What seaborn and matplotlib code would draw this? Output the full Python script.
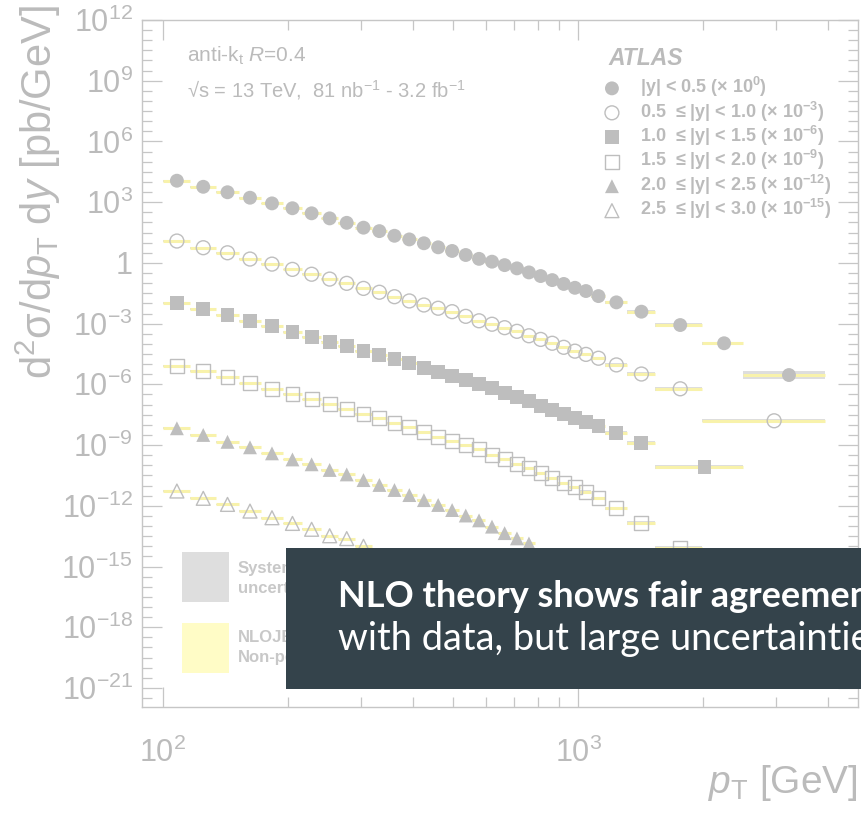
import numpy as np
import pandas as pd
import matplotlib
matplotlib.use("Agg")
import matplotlib.pyplot as plt
import seaborn as sns
from matplotlib.patches import Rectangle
from matplotlib.ticker import FixedLocator, NullFormatter
from matplotlib import font_manager

# ---------------- data ----------------
pt_edges = [100, 116, 134, 152, 172, 194, 216, 240, 264, 290, 318, 346, 376,
            408, 442, 478, 516, 556, 598, 642, 688, 736, 786, 838, 894, 952,
            1012, 1076, 1162, 1310, 1530, 1992, 2500, 3937]

edges_y00_05 = pt_edges
edges_y05_10 = pt_edges[:32] + [3937]
edges_y10_15 = pt_edges[:31] + [2500]
edges_y15_20 = pt_edges[:32]
edges_y20_25 = pt_edges[:23]
edges_y25_30 = pt_edges[:11]

# log10 of the (scaled) cross section, pb/GeV
log_xs_y00_05 = [4.06, 3.76, 3.49, 3.22, 2.94, 2.70, 2.45, 2.20, 1.98, 1.74,
                 1.57, 1.34, 1.16, 0.97, 0.77, 0.59, 0.39, 0.20, 0.06, -0.11,
                 -0.27, -0.47, -0.65, -0.85, -1.04, -1.23, -1.39, -1.64,
                 -1.95, -2.41, -3.07, -3.97, -5.54]
log_xs_y05_10 = [1.08, 0.75, 0.50, 0.19, -0.06, -0.32, -0.56, -0.80, -1.01,
                 -1.26, -1.45, -1.67, -1.88, -2.08, -2.24, -2.41, -2.64,
                 -2.86, -3.03, -3.20, -3.38, -3.60, -3.78, -3.97, -4.17,
                 -4.36, -4.52, -4.71, -5.04, -5.49, -6.22, -7.80]
log_xs_y10_15 = [-2.00, -2.29, -2.58, -2.87, -3.12, -3.40, -3.65, -3.89,
                 -4.11, -4.34, -4.55, -4.76, -4.96, -5.18, -5.38, -5.59,
                 -5.77, -5.98, -6.20, -6.41, -6.64, -6.81, -7.06, -7.27,
                 -7.47, -7.68, -7.85, -8.04, -8.39, -8.91, -10.10]
log_xs_y15_20 = [-5.08, -5.34, -5.65, -5.95, -6.22, -6.48, -6.74, -6.99,
                 -7.23, -7.47, -7.68, -7.90, -8.12, -8.34, -8.59, -8.79,
                 -8.98, -9.21, -9.49, -9.70, -9.94, -10.15, -10.40, -10.64,
                 -10.86, -11.07, -11.30, -11.63, -12.13, -12.87, -14.10]
log_xs_y20_25 = [-8.17, -8.50, -8.84, -9.11, -9.41, -9.71, -9.95, -10.23,
                 -10.45, -10.73, -10.97, -11.22, -11.47, -11.72, -11.96,
                 -12.21, -12.48, -12.72, -13.03, -13.35, -13.61, -13.86]
log_xs_y25_30 = [-11.27, -11.63, -11.93, -12.26, -12.59, -12.87, -13.16,
                 -13.48, -13.62, -14.00]

# systematic uncertainty half-width (in decades) per pT bin
sys_dex = [0.05, 0.04, 0.04, 0.04, 0.04, 0.04, 0.04, 0.04, 0.04, 0.04, 0.04,
           0.04, 0.04, 0.04, 0.04, 0.05, 0.05, 0.05, 0.05, 0.05, 0.05, 0.06,
           0.06, 0.06, 0.06, 0.07, 0.07, 0.08, 0.09, 0.10, 0.10, 0.08, 0.22]

series_labels = [
    r"|y| < 0.5 (× 10$^{\mathbf{0}}$)",
    r"0.5  ≤ |y| < 1.0 (× 10$^{\mathbf{-3}}$)",
    r"1.0  ≤ |y| < 1.5 (× 10$^{\mathbf{-6}}$)",
    r"1.5  ≤ |y| < 2.0 (× 10$^{\mathbf{-9}}$)",
    r"2.0  ≤ |y| < 2.5 (× 10$^{\mathbf{-12}}$)",
    r"2.5  ≤ |y| < 3.0 (× 10$^{\mathbf{-15}}$)",
]

# ---------------- style ----------------
sns.set_theme(style="ticks")
avail = {f.name for f in font_manager.fontManager.ttflist}
BASE_FONT = "Liberation Sans" if "Liberation Sans" in avail else "DejaVu Sans"
plt.rcParams["font.family"] = [BASE_FONT, "DejaVu Sans"]
plt.rcParams["mathtext.fontset"] = "custom"
plt.rcParams["mathtext.rm"] = BASE_FONT
plt.rcParams["mathtext.it"] = BASE_FONT + ":italic"
plt.rcParams["mathtext.bf"] = BASE_FONT + ":bold"
plt.rcParams["mathtext.sf"] = BASE_FONT
plt.rcParams["axes.formatter.min_exponent"] = 1

TEXT = "#bbbbbb"
AXC = "#c6c6c6"
GREY = "#bebebe"
BAND_GREY = "#dedede"
YELLOW = "#f8f2ab"

W, H = 862, 814
fig = plt.figure(figsize=(W / 100, H / 100), dpi=100)
L, R, T, B = 142, 858, 20, 707
ax = fig.add_axes([L / W, 1 - B / H, (R - L) / W, (B - T) / H])


def axx(px):
    return (px - L) / (R - L)


def axy(py):
    return (B - py) / (B - T)


ax.set_xscale("log")
ax.set_yscale("log")
ax.set_xlim(89, 4720)
ax.set_ylim(10 ** -21.94, 1e12)

series = [
    (edges_y00_05, log_xs_y00_05, "o", True),
    (edges_y05_10, log_xs_y05_10, "o", False),
    (edges_y10_15, log_xs_y10_15, "s", True),
    (edges_y15_20, log_xs_y15_20, "s", False),
    (edges_y20_25, log_xs_y20_25, "^", True),
    (edges_y25_30, log_xs_y25_30, "^", False),
]

MS = 100
handles = []
for edges, logs, marker, filled in series:
    lo = np.array(edges[:-1], float)
    hi = np.array(edges[1:], float)
    val = 10.0 ** np.array(logs)
    s = np.array(sys_dex[:len(val)])
    ax.bar(lo, val * (10 ** s - 10 ** -s), bottom=val * 10 ** -s,
           width=hi - lo, align="edge", color=BAND_GREY, linewidth=0, zorder=2)
    ax.hlines(val, lo, hi, color=YELLOW, lw=2.2, zorder=3)
    df = pd.DataFrame({"pt": (lo + hi) / 2, "xsec": val})
    if filled:
        sns.scatterplot(data=df, x="pt", y="xsec", marker=marker, s=MS,
                        color=GREY, edgecolor="none", linewidth=0, ax=ax,
                        zorder=4, legend=False)
    else:
        sns.scatterplot(data=df, x="pt", y="xsec", marker=marker, s=MS,
                        facecolor="none", edgecolor=GREY, linewidth=1.0,
                        ax=ax, zorder=4, legend=False)
    handles.append(ax.collections[-1])

# ---------------- axes / ticks ----------------
ax.yaxis.set_major_locator(FixedLocator([10.0 ** k for k in range(-21, 13, 3)]))
ax.yaxis.set_minor_locator(FixedLocator([10.0 ** (k / 2) for k in range(-44, 25) if k % 6 != 0]))
ax.yaxis.set_minor_formatter(NullFormatter())
ax.xaxis.set_major_locator(FixedLocator([100, 1000]))
ax.xaxis.set_minor_locator(FixedLocator([200, 300, 400, 500, 600, 700, 800, 900, 2000, 3000, 4000]))
ax.xaxis.set_minor_formatter(NullFormatter())

ax.tick_params(which="both", direction="in", top=True, right=True,
               color=AXC, labelcolor=TEXT, width=0.9)
ax.tick_params(which="major", length=14.4)
ax.tick_params(which="minor", length=7.2)
ax.tick_params(axis="y", labelsize=22, pad=6.5)
ax.tick_params(axis="x", labelsize=22, pad=22)
for sp in ax.spines.values():
    sp.set_color(AXC)
    sp.set_linewidth(1.0)

ax.set_ylabel("d$^{2}$σ/d$p_{\\mathrm{T}}$ d$y$ [pb/GeV]", fontsize=30, color=TEXT)
ax.yaxis.label.set_rotation_mode("default")
ax.yaxis.label.set_horizontalalignment("center")
ax.yaxis.label.set_verticalalignment("top")
ax.yaxis.set_label_coords(axx(38), axy(5))

ax.set_xlabel("$p_{\\mathrm{T}}$ [GeV]", fontsize=28, color=TEXT)
ax.xaxis.label.set_horizontalalignment("right")
ax.xaxis.label.set_verticalalignment("top")
ax.xaxis.set_label_coords(1.0, axy(763))

# ---------------- annotations ----------------
ax.text(axx(187), axy(62), r"anti-k$_{\mathrm{t}}$ $R$=0.4", transform=ax.transAxes,
        fontsize=15, color=TEXT, va="baseline")
ax.text(axx(187), axy(97), r"√s = 13 TeV,  81 nb$^{-1}$ - 3.2 fb$^{-1}$",
        transform=ax.transAxes, fontsize=14.5, color=TEXT, va="baseline")
ax.text(axx(608), axy(65), "ATLAS", transform=ax.transAxes, fontsize=16.5,
        fontweight="bold", fontstyle="italic", color=TEXT, va="baseline")

leg = ax.legend(handles, series_labels, loc="upper left",
                bbox_to_anchor=(axx(602), axy(75)), frameon=False,
                borderpad=0, borderaxespad=0, handlelength=1.1,
                handletextpad=1.0, labelspacing=0.02,
                prop={"family": BASE_FONT, "weight": "bold", "size": 13},
                labelcolor=TEXT)

# lower-left legend (partly hidden by the caption box)
ax.add_patch(Rectangle((axx(182), axy(602)), (229 - 182) / (R - L), (602 - 552) / (B - T),
                       transform=ax.transAxes, color=BAND_GREY, lw=0, zorder=5))
ax.add_patch(Rectangle((axx(182), axy(673)), (229 - 182) / (R - L), (673 - 623) / (B - T),
                       transform=ax.transAxes, color="#fffcc6", lw=0, zorder=5))
for txt, py in [("Systematic", 573), ("uncertainties", 593),
                ("NLOJET++", 642), ("Non-pert.", 662)]:
    ax.text(axx(238), axy(py), txt, transform=ax.transAxes, fontsize=12,
            fontweight="bold", color="#c8c8c8", va="baseline", zorder=5)

# ---------------- caption overlay box ----------------
fig.add_artist(Rectangle((286 / W, 1 - 689 / H), (W - 286) / W + 0.01, (689 - 548.3) / H,
                         transform=fig.transFigure, color="#34434b", lw=0, zorder=10))
BOX_FONT = "Lato" if "Lato" in avail else "Open Sans"
fig.text(338 / W, 1 - 607 / H, "NLO theory shows fair agreement",
         family=[BOX_FONT, "DejaVu Sans"], fontsize=26, fontweight="bold",
         color="white", va="baseline", zorder=11)
fig.text(338 / W, 1 - 650 / H, "with data, but large uncertainties",
         family=[BOX_FONT, "DejaVu Sans"], fontsize=27.4, color="white",
         va="baseline", zorder=11)

fig.savefig("out.png", dpi=100)
